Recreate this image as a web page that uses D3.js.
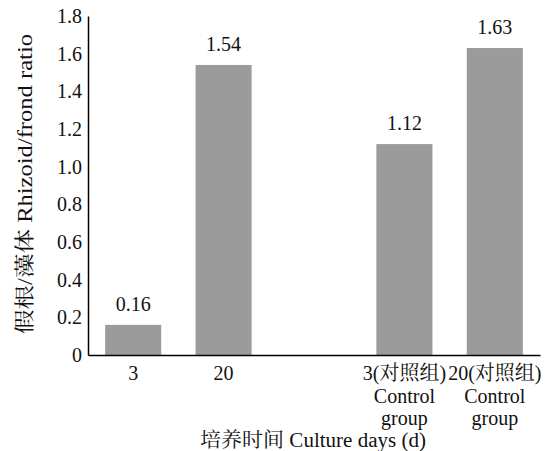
<!DOCTYPE html>
<html>
<head>
<meta charset="utf-8">
<script src="https://cdn.jsdelivr.net/npm/d3@7"></script>
<style>
  body { margin: 0; background: #fff; }
</style>
</head>
<body>
<div id="chart"></div>
<script>
// categories (the "gap" key keeps the empty slot between the two groups)
const categories = ["3", "20", "gap", "3c", "20c"];
const tickLines = {
    "3": ["3"],
    "20": ["20"],
    "gap": [],
    "3c": ["3(对照组)", "Control", "group"],
    "20c": ["20(对照组)", "Control", "group"]
};
const barKeys = ["3", "20", "3c", "20c"];
const ratios = [0.16, 1.54, 1.12, 1.63];
const yTicks = [0, 0.2, 0.4, 0.6, 0.8, 1.0, 1.2, 1.4, 1.6, 1.8];

const width = 557, height = 451;
const margin = { top: 16, right: 17, bottom: 96, left: 88 };
const font = "Liberation Serif, DejaVu Serif, Noto Serif CJK SC, Noto Sans CJK SC, serif";
const fontSize = "20px";

const svg = d3.select("#chart").append("svg")
    .attr("width", width)
    .attr("height", height);

const x = d3.scaleBand()
    .domain(categories)
    .range([margin.left, width - margin.right])
    .paddingInner(0.38)
    .paddingOuter(0.19);

const y = d3.scaleLinear()
    .domain([0, 1.8])
    .range([height - margin.bottom, margin.top]);

// bars
svg.append("g")
    .selectAll("rect")
    .data(barKeys)
    .enter().append("rect")
    .attr("x", d => x(d))
    .attr("y", (d, i) => y(ratios[i]))
    .attr("width", x.bandwidth())
    .attr("height", (d, i) => y(0) - y(ratios[i]))
    .attr("fill", "#9b9b9b");

// value labels
svg.append("g")
    .selectAll("text")
    .data(barKeys)
    .enter().append("text")
    .attr("x", d => x(d) + x.bandwidth() / 2)
    .attr("y", (d, i) => y(ratios[i]) - 14)
    .attr("text-anchor", "middle")
    .attr("fill", "#111")
    .attr("font-family", font)
    .attr("font-size", fontSize)
    .text((d, i) => ratios[i].toFixed(2));

// y axis
const yAxis = svg.append("g")
    .attr("transform", `translate(${margin.left},0)`)
    .call(d3.axisLeft(y).tickValues(yTicks).tickSize(0).tickPadding(6)
        .tickFormat(d => d === 0 ? "0" : d3.format(".1f")(d)));
yAxis.attr("font-family", font).attr("font-size", fontSize);
yAxis.select(".domain").attr("stroke", "#000").attr("stroke-width", 1.5);
yAxis.selectAll("text").attr("fill", "#111");

// x axis
const xAxis = svg.append("g")
    .attr("transform", `translate(0,${y(0)})`)
    .call(d3.axisBottom(x).tickSize(0).tickFormat(""));
xAxis.attr("font-family", font).attr("font-size", fontSize);
xAxis.select(".domain").attr("stroke", "#000").attr("stroke-width", 1.5);

xAxis.selectAll(".tick").each(function(d) {
    const t = d3.select(this).append("text")
        .attr("text-anchor", "middle")
        .attr("fill", "#111");
    tickLines[d].forEach((line, i) => {
        t.append("tspan")
            .attr("x", 0)
            .attr("y", 25 + i * 22.5)
            .text(line);
    });
});

// axis titles
svg.append("text")
    .attr("x", 313)
    .attr("y", 447)
    .attr("text-anchor", "middle")
    .attr("textLength", 226)
    .attr("lengthAdjust", "spacingAndGlyphs")
    .attr("fill", "#111")
    .attr("font-family", font)
    .attr("font-size", fontSize)
    .text("培养时间 Culture days (d)");

svg.append("text")
    .attr("transform", "translate(32,184) rotate(-90)")
    .attr("text-anchor", "middle")
    .attr("textLength", 300)
    .attr("lengthAdjust", "spacingAndGlyphs")
    .attr("fill", "#111")
    .attr("font-family", font)
    .attr("font-size", fontSize)
    .text("假根/藻体 Rhizoid/frond ratio");
</script>
</body>
</html>
